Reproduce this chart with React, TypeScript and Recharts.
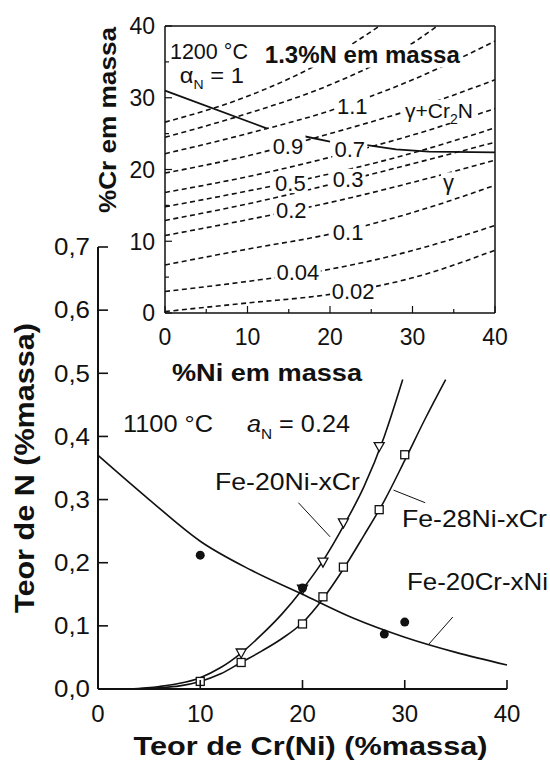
import React from "react";
import { ComposedChart, Line, Scatter, XAxis, YAxis, ReferenceDot } from "recharts";

const FONT = "'Liberation Sans', Arial, Helvetica, sans-serif";
const INK = "#111";

// ---- main plot: 1100 °C, aN = 0.24 ----
const crTicks = [0, 10, 20, 30, 40];
const nTicks = [0, 0.1, 0.2, 0.3, 0.4, 0.5, 0.6, 0.7];

const fe20CrNiCurve = [[0, 0.37], [5, 0.3], [10, 0.234], [15, 0.188], [20, 0.15], [25, 0.112], [30, 0.082], [35, 0.058], [40, 0.038]];
const fe20NiCrCurve = [[3, 0], [6, 0.004], [8, 0.009], [10, 0.018], [12, 0.034], [14, 0.057], [16, 0.086], [18, 0.119], [20, 0.158], [22, 0.203], [24, 0.258], [26, 0.32], [28, 0.4], [29.8, 0.49]];
const fe28NiCrCurve = [[3, 0], [6, 0.002], [8, 0.005], [10, 0.012], [12, 0.024], [14, 0.042], [16, 0.06], [18, 0.08], [20, 0.105], [22, 0.143], [24, 0.19], [26, 0.243], [28, 0.298], [30, 0.362], [32, 0.428], [34, 0.49]];

const fe20CrNiPts = [[10, 0.212], [20, 0.16], [28, 0.087], [30, 0.106]];
const fe20NiCrPts = [[14, 0.057], [20, 0.158], [22, 0.201], [24, 0.263], [27.5, 0.384]];
const fe28NiCrPts = [[10, 0.012], [14, 0.042], [20, 0.103], [22, 0.146], [24, 0.193], [27.5, 0.284], [30, 0.371]];

// thin pointer lines from the series names to the curves
const leader20Ni = [[19.6, 0.295], [22.7, 0.241]];
const leader28Ni = [[28.9, 0.315], [32, 0.295]];
const leader20Cr = [[32.3, 0.07], [34.7, 0.114]];

// ---- inset: 1200 °C, aN = 1, iso-N lines (%N) ----
const niTicks = [0, 5, 10, 15, 20, 25, 30, 35, 40];

const iso002 = [[0, 0.2], [10, 1.4], [20, 2.6], [30, 4.9], [40, 8.75]];
const iso004 = [[0, 3.0], [10, 4.4], [20, 6.1], [30, 8.7], [40, 12.2]];
const iso01 = [[0, 6.7], [10, 8.9], [20, 11.0], [30, 14.0], [40, 17.8]];
const iso02 = [[0, 10.8], [10, 13.0], [20, 15.4], [30, 18.2], [40, 21.3]];
const iso03 = [[0, 12.9], [10, 15.2], [20, 17.9], [30, 20.8], [40, 23.8]];
const iso05 = [[0, 14.8], [10, 17.0], [20, 19.4], [30, 22.3], [40, 25.8]];
const iso07 = [[0, 16.8], [10, 19.0], [20, 21.7], [30, 24.8], [40, 28.5]];
const iso09 = [[0, 19.5], [10, 21.9], [20, 25.0], [30, 28.4], [40, 32.5]];
const iso11 = [[0, 22.2], [10, 25.0], [20, 28.2], [30, 32.5], [40, 37.9]];
const iso12 = [[0, 24.5], [10, 27.8], [20, 31.8], [30, 37.6], [33, 40]];
const iso13 = [[0, 26.6], [10, 30.2], [20, 35.6], [26, 40]];

const bound1 = [[0, 31.0], [12.4, 25.7]];
const bound2 = [[17.0, 24.6], [20.0, 23.9]];
const bound3 = [[24.5, 23.4], [28, 22.8], [32, 22.5], [40, 22.4]];

// label text and where it sits on its line
const isoLabels: [string, number, number][] = [
  ["0.02", 22.8, 3.0],
  ["0.04", 16.1, 5.7],
  ["0.1", 22.2, 11.3],
  ["0.2", 15.3, 14.3],
  ["0.3", 22.2, 18.7],
  ["0.5", 15.2, 18.1],
  ["0.7", 22.4, 22.8],
  ["0.9", 14.9, 23.3],
  ["1.1", 22.7, 28.9],
];

const pts = (a: number[][]) => a.map(([x, y]) => ({ x, y }));

const Square = (p: any) => (
  <rect x={p.cx - 4} y={p.cy - 4} width={8} height={8} fill="#fff" stroke={INK} strokeWidth={1.3} />
);
const TriDown = (p: any) => (
  <path
    d={`M${p.cx - 5},${p.cy - 4} L${p.cx + 5},${p.cy - 4} L${p.cx},${p.cy + 5} Z`}
    fill="#fff"
    stroke={INK}
    strokeWidth={1.3}
  />
);
const Dot = (p: any) => <circle cx={p.cx} cy={p.cy} r={4.5} fill={INK} />;

const MainYTick = (p: any) => {
  const { x, y, payload } = p;
  return (
    <g>
      <line x1={x} x2={x + 10} y1={y} y2={y} stroke={INK} strokeWidth={1.6} />
      <text x={x - 8} y={y} dy="0.36em" textAnchor="end" fontSize={23} fontFamily={FONT} fill={INK}
        textLength={36} lengthAdjust="spacingAndGlyphs">
        {Number(payload.value).toFixed(1).replace(".", ",")}
      </text>
    </g>
  );
};

const MainXTick = (p: any) => {
  const { x, y, payload } = p;
  return (
    <g>
      {payload.value > 0 && <line x1={x} x2={x} y1={y} y2={y - 9} stroke={INK} strokeWidth={1.6} />}
      <text x={x} y={y + 33} textAnchor="middle" fontSize={24} fontFamily={FONT} fill={INK}>
        {payload.value}
      </text>
    </g>
  );
};

const insetTick = (side: string) => (p: any) => {
  const { x, y, payload } = p;
  const v = payload.value;
  const major = v % 10 === 0;
  const len = major ? 7 : 4;
  const txt = { fontSize: 23, fontFamily: FONT, fill: INK };
  if (side === "bottom")
    return (
      <g>
        <line x1={x} x2={x} y1={y} y2={y - len} stroke={INK} strokeWidth={1.2} />
        {major && <text x={x} y={y + 32} textAnchor="middle" {...txt}>{v}</text>}
      </g>
    );
  if (side === "top")
    return <line x1={x} x2={x} y1={y} y2={y + len} stroke={INK} strokeWidth={1.2} />;
  if (side === "left")
    return (
      <g>
        <line x1={x} x2={x + len} y1={y} y2={y} stroke={INK} strokeWidth={1.2} />
        {major && <text x={x - 10} y={y} dy="0.36em" textAnchor="end" {...txt}>{v}</text>}
      </g>
    );
  return <line x1={x} x2={x - len} y1={y} y2={y} stroke={INK} strokeWidth={1.2} />;
};

const IsoTag = (text: string) => (p: any) => {
  const w = text.length * 11 + 2;
  return (
    <g>
      <rect x={p.cx - w / 2} y={p.cy - 10} width={w} height={20} fill="#fff" />
      <text x={p.cx} y={p.cy} dy="0.36em" textAnchor="middle" fontSize={22} fontFamily={FONT} fill={INK}>
        {text}
      </text>
    </g>
  );
};

// note text anchored at its baseline start
const Note = (content: React.ReactNode, w: number, opts: any = {}) => (p: any) => (
  <g>
    {opts.box && <rect x={p.cx - 2} y={p.cy - 18} width={w + 4} height={23} fill="#fff" />}
    <text x={p.cx} y={p.cy} fontSize={opts.size || 23} fontWeight={opts.bold ? "bold" : "normal"}
      fontFamily={FONT} fill={INK} textLength={opts.fit ? w : undefined}
      lengthAdjust={opts.fit ? "spacingAndGlyphs" : undefined}>
      {content}
    </text>
  </g>
);

const curve = { type: "monotone" as const, dot: false, activeDot: false, isAnimationActive: false, legendType: "none" as const };

const MainChart = () => (
  <ComposedChart width={550} height={762} margin={{ top: 247, right: 43, bottom: 13, left: 38 }}>
    <XAxis
      dataKey="x" type="number" domain={[0, 40]} ticks={crTicks} interval={0} height={60}
      tickSize={0} tickMargin={0} tickLine={false} tick={(p: any) => <MainXTick {...p} />}
      axisLine={{ stroke: INK, strokeWidth: 2 }}
      label={{
        content: (p: any) => (
          <text x={p.viewBox.x + p.viewBox.width / 2 + 8} y={p.viewBox.y + 66} textAnchor="middle"
            fontSize={26} fontWeight="bold" fontFamily={FONT} fill={INK}
            textLength={354} lengthAdjust="spacingAndGlyphs">
            Teor de Cr(Ni) (%massa)
          </text>
        ),
      }}
    />
    <YAxis
      dataKey="y" type="number" domain={[0, 0.7]} ticks={nTicks} interval={0} width={60}
      tickSize={0} tickMargin={0} tickLine={false} tick={(p: any) => <MainYTick {...p} />}
      axisLine={{ stroke: INK, strokeWidth: 2 }}
      label={{
        content: (p: any) => {
          const bx = p.viewBox.x - 4;
          const cy = p.viewBox.y + p.viewBox.height / 2;
          return (
            <text x={bx} y={cy} transform={`rotate(-90, ${bx}, ${cy})`} textAnchor="middle"
              fontSize={27} fontWeight="bold" fontFamily={FONT} fill={INK}
              textLength={290} lengthAdjust="spacingAndGlyphs">
              Teor de N (%massa)
            </text>
          );
        },
      }}
    />
    <Line {...curve} data={pts(fe20CrNiCurve)} dataKey="y" stroke={INK} strokeWidth={1.6} />
    <Line {...curve} data={pts(fe20NiCrCurve)} dataKey="y" stroke={INK} strokeWidth={1.6} />
    <Line {...curve} data={pts(fe28NiCrCurve)} dataKey="y" stroke={INK} strokeWidth={1.6} />
    <Line {...curve} type="linear" data={pts(leader20Ni)} dataKey="y" stroke={INK} strokeWidth={1} />
    <Line {...curve} type="linear" data={pts(leader28Ni)} dataKey="y" stroke={INK} strokeWidth={1} />
    <Line {...curve} type="linear" data={pts(leader20Cr)} dataKey="y" stroke={INK} strokeWidth={1} />
    <Scatter data={pts(fe28NiCrPts)} dataKey="y" shape={Square} isAnimationActive={false} legendType="none" />
    <Scatter data={pts(fe20NiCrPts)} dataKey="y" shape={TriDown} isAnimationActive={false} legendType="none" />
    <Scatter data={pts(fe20CrNiPts)} dataKey="y" shape={Dot} isAnimationActive={false} legendType="none" />
    <ReferenceDot x={2.45} y={0.407} r={0} shape={Note("1100 °C", 90, { fit: true })} />
    <ReferenceDot x={14.57} y={0.407} r={0} shape={Note(
      <>
        <tspan fontStyle="italic">a</tspan>
        <tspan fontSize={14} dy={7}>N</tspan>
        <tspan dy={-7}> = 0.24</tspan>
      </>, 103, { fit: true })} />
    <ReferenceDot x={11.44} y={0.315} r={0} shape={Note("Fe-20Ni-xCr", 145, { fit: true, size: 24 })} />
    <ReferenceDot x={29.73} y={0.257} r={0} shape={Note("Fe-28Ni-xCr", 145, { fit: true, size: 24 })} />
    <ReferenceDot x={30.22} y={0.157} r={0} shape={Note("Fe-20Cr-xNi", 141, { fit: true, size: 24 })} />
  </ComposedChart>
);

const dashed = { ...curve, stroke: INK, strokeWidth: 1.6, strokeDasharray: "5 3.5" };
const isoLines = [iso002, iso004, iso01, iso02, iso03, iso05, iso07, iso09, iso11, iso12, iso13];
const bounds = [bound1, bound2, bound3];

const InsetChart = () => (
  <ComposedChart width={520} height={400} margin={{ top: 16, right: 15, bottom: 27, left: 105 }}>
    <XAxis
      dataKey="x" type="number" domain={[0, 40]} ticks={niTicks} interval={0} height={60}
      tickSize={0} tickMargin={0} tickLine={false} tick={insetTick("bottom")}
      axisLine={{ stroke: INK, strokeWidth: 1.5 }}
      label={{
        content: (p: any) => (
          <text x={p.viewBox.x + 7} y={p.viewBox.y + 68} fontSize={23} fontWeight="bold" fontFamily={FONT}
            fill={INK} textLength={190} lengthAdjust="spacingAndGlyphs">
            %Ni em massa
          </text>
        ),
      }}
    />
    <XAxis
      xAxisId="top" orientation="top" type="number" domain={[0, 40]} ticks={niTicks} interval={0} height={10}
      tickSize={0} tickMargin={0} tickLine={false} tick={insetTick("top")}
      axisLine={{ stroke: INK, strokeWidth: 1.5 }}
    />
    <YAxis
      dataKey="y" type="number" domain={[0, 40]} ticks={niTicks} interval={0} width={60}
      tickSize={0} tickMargin={0} tickLine={false} tick={insetTick("left")}
      axisLine={{ stroke: INK, strokeWidth: 1.5 }}
      label={{
        content: (p: any) => {
          const bx = p.viewBox.x + 11;
          const cy = p.viewBox.y + 94;
          return (
            <text x={bx} y={cy} transform={`rotate(-90, ${bx}, ${cy})`} textAnchor="middle"
              fontSize={23} fontWeight="bold" fontFamily={FONT} fill={INK}
              textLength={186} lengthAdjust="spacingAndGlyphs">
              %Cr em massa
            </text>
          );
        },
      }}
    />
    <YAxis
      yAxisId="right" orientation="right" type="number" domain={[0, 40]} ticks={niTicks} interval={0} width={10}
      tickSize={0} tickMargin={0} tickLine={false} tick={insetTick("right")}
      axisLine={{ stroke: INK, strokeWidth: 1.5 }}
    />
    {isoLines.map((d, i) => (
      <Line key={`iso${i}`} {...dashed} data={pts(d)} dataKey="y" />
    ))}
    {bounds.map((d, i) => (
      <Line key={`b${i}`} {...curve} type="linear" data={pts(d)} dataKey="y" stroke={INK} strokeWidth={1.8} />
    ))}
    {isoLabels.map(([t, x, y]) => (
      <ReferenceDot key={t} x={x} y={y} r={0} shape={IsoTag(t)} />
    ))}
    <ReferenceDot x={0.6} y={35.4} r={0} shape={Note("1200 °C", 78, { fit: true, size: 22, box: true })} />
    <ReferenceDot x={1.8} y={32.1} r={0} shape={Note(
      <>
        <tspan>α</tspan>
        <tspan fontSize={13} dy={6}>N</tspan>
        <tspan dy={-6}> = 1</tspan>
      </>, 64, { fit: true, size: 22, box: true })} />
    <ReferenceDot x={12.1} y={34.9} r={0} shape={Note("1.3%N em massa", 195, { fit: true, bold: true, box: true })} />
    <ReferenceDot x={29.1} y={27.2} r={0} shape={Note(
      <>
        <tspan>γ+Cr</tspan>
        <tspan fontSize={14} dy={6}>2</tspan>
        <tspan dy={-6}>N</tspan>
      </>, 68, { size: 21, box: true })} />
    <ReferenceDot x={33.7} y={17.1} r={0} shape={Note("γ", 11, { size: 22, box: true })} />
  </ComposedChart>
);

export default function App() {
  return (
    <div style={{ position: "absolute", left: 0, top: 0, width: 550, height: 762, background: "#fff" }}>
      <div style={{ position: "absolute", left: 0, top: 0 }}>
        <MainChart />
      </div>
      <div style={{ position: "absolute", left: 0, top: 0 }}>
        <InsetChart />
      </div>
    </div>
  );
}
